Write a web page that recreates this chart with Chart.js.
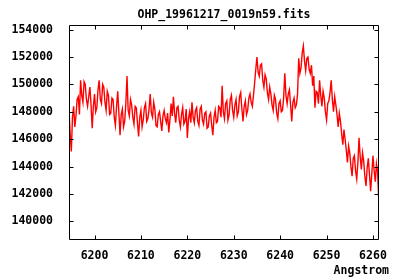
<!DOCTYPE html>
<html>
<head>
<meta charset="utf-8">
<title>OHP_19961217_0019n59.fits</title>
<script src="https://cdn.jsdelivr.net/npm/chart.js@4/dist/chart.umd.min.js"></script>
<style>
  body { margin: 0; background: #fff; }
  canvas { display: block; }
</style>
</head>
<body>
<canvas id="spectrum" width="400" height="280"></canvas>
<script>
const chartTitle = 'OHP_19961217_0019n59.fits';
const xAxisLabel = 'Angstrom';

const xTicks = [6200, 6210, 6220, 6230, 6240, 6250, 6260];
const yTicks = [140000, 142000, 144000, 146000, 148000, 150000, 152000, 154000];

const wavelengths = [
  6194.5, 6194.75, 6195, 6195.25, 6195.5, 6195.75, 6196, 6196.25,
  6196.5, 6196.75, 6197, 6197.25, 6197.5, 6197.75, 6198, 6198.25,
  6198.5, 6198.75, 6199, 6199.25, 6199.5, 6199.75, 6200, 6200.25,
  6200.5, 6200.75, 6201, 6201.25, 6201.5, 6201.75, 6202, 6202.25,
  6202.5, 6202.75, 6203, 6203.25, 6203.5, 6203.75, 6204, 6204.25,
  6204.5, 6204.75, 6205, 6205.25, 6205.5, 6205.75, 6206, 6206.25,
  6206.5, 6206.75, 6207, 6207.25, 6207.5, 6207.75, 6208, 6208.25,
  6208.5, 6208.75, 6209, 6209.25, 6209.5, 6209.75, 6210, 6210.25,
  6210.5, 6210.75, 6211, 6211.25, 6211.5, 6211.75, 6212, 6212.25,
  6212.5, 6212.75, 6213, 6213.25, 6213.5, 6213.75, 6214, 6214.25,
  6214.5, 6214.75, 6215, 6215.25, 6215.5, 6215.75, 6216, 6216.25,
  6216.5, 6216.75, 6217, 6217.25, 6217.5, 6217.75, 6218, 6218.25,
  6218.5, 6218.75, 6219, 6219.25, 6219.5, 6219.75, 6220, 6220.25,
  6220.5, 6220.75, 6221, 6221.25, 6221.5, 6221.75, 6222, 6222.25,
  6222.5, 6222.75, 6223, 6223.25, 6223.5, 6223.75, 6224, 6224.25,
  6224.5, 6224.75, 6225, 6225.25, 6225.5, 6225.75, 6226, 6226.25,
  6226.5, 6226.75, 6227, 6227.25, 6227.5, 6227.75, 6228, 6228.25,
  6228.5, 6228.75, 6229, 6229.25, 6229.5, 6229.75, 6230, 6230.25,
  6230.5, 6230.75, 6231, 6231.25, 6231.5, 6231.75, 6232, 6232.25,
  6232.5, 6232.75, 6233, 6233.25, 6233.5, 6233.75, 6234, 6234.25,
  6234.5, 6234.75, 6235, 6235.25, 6235.5, 6235.75, 6236, 6236.25,
  6236.5, 6236.75, 6237, 6237.25, 6237.5, 6237.75, 6238, 6238.25,
  6238.5, 6238.75, 6239, 6239.25, 6239.5, 6239.75, 6240, 6240.25,
  6240.5, 6240.75, 6241, 6241.25, 6241.5, 6241.75, 6242, 6242.25,
  6242.5, 6242.75, 6243, 6243.25, 6243.5, 6243.75, 6244, 6244.25,
  6244.5, 6244.75, 6245, 6245.25, 6245.5, 6245.75, 6246, 6246.25,
  6246.5, 6246.75, 6247, 6247.25, 6247.5, 6247.75, 6248, 6248.25,
  6248.5, 6248.75, 6249, 6249.25, 6249.5, 6249.75, 6250, 6250.25,
  6250.5, 6250.75, 6251, 6251.25, 6251.5, 6251.75, 6252, 6252.25,
  6252.5, 6252.75, 6253, 6253.25, 6253.5, 6253.75, 6254, 6254.25,
  6254.5, 6254.75, 6255, 6255.25, 6255.5, 6255.75, 6256, 6256.25,
  6256.5, 6256.75, 6257, 6257.25, 6257.5, 6257.75, 6258, 6258.25,
  6258.5, 6258.75, 6259, 6259.25, 6259.5, 6259.75, 6260, 6260.25,
  6260.5, 6260.75, 6261, 6261.25
];

const flux = [
  148200, 146400, 145100, 147600, 148400, 146900, 147700, 148900,
  149100, 147800, 150300, 149200, 148700, 150200, 150000, 148900,
  148400, 149100, 149800, 148500, 146800, 148400, 149300, 148000,
  148300, 149600, 150300, 148900, 148600, 150000, 149800, 148700,
  148100, 149500, 149200, 147800, 147900, 149000, 148900, 147600,
  147000, 148400, 149500, 147900, 146300, 147800, 148200, 146900,
  147300, 148600, 150600, 148100, 147700, 148900, 148500, 147600,
  147100, 148400, 148300, 147200, 146200, 147600, 148100, 146900,
  147400, 148300, 148600, 147300, 147500, 148200, 149300, 147900,
  147600, 148700, 148200, 147000, 146900, 147800, 148000, 147300,
  146600, 147700, 148100, 147500, 147200, 147900, 146500, 147400,
  148600, 147700, 149100, 147900, 147200, 148300, 148400, 147400,
  146900, 147800, 148300, 147100, 147300, 148200, 146100, 147500,
  148000, 147200, 148700, 147600, 147200, 148100, 148300, 147300,
  147000, 148200, 148400, 147400, 147100, 147900, 148000, 146800,
  146900, 147700, 147900, 147000, 146300, 147600, 148100, 147200,
  147300, 148400, 148300, 147600, 149900, 148000, 147500, 148600,
  148800, 147400, 147800, 148900, 149200, 148100, 147600, 148500,
  148900, 147700, 148000, 149100, 149400, 148200, 147300, 148400,
  148800, 147800, 148100, 149000, 149300, 148700, 148400, 149200,
  150100, 151100, 152000, 150900, 150600, 151400, 151500, 150300,
  149800, 150700, 150400, 149400, 148900, 149800, 149300, 148500,
  148100, 149200, 148900, 147900, 147500, 148600, 148800, 148000,
  148100, 149000, 150800, 149200, 148600, 149300, 149600, 148500,
  147300, 148700, 149000, 148300, 148500, 149300, 151900, 150800,
  151200, 152300, 152800, 151700, 151000, 151900, 152000, 151100,
  150800, 151400, 149900, 150600, 148300, 149500, 149400, 148600,
  150300, 149200, 148400, 149500, 149000, 148000, 147400, 148600,
  148800, 149400, 150300, 148900, 148000, 149100, 148500, 147800,
  146900, 147900, 147300, 146400, 145600, 146700, 146000, 145200,
  144300, 145500, 145000, 144000, 143300, 144600, 144800, 143700,
  143100, 144300, 146100, 144700, 143800, 145000, 144400, 143300,
  142600, 143900, 144600, 143400, 142200, 143500, 144800, 143700,
  142900, 144200, 143600, 141500
];

const FONT = 'bold 11.5px "DejaVu Sans Mono", "Liberation Mono", monospace';

// gnuplot style frame: box with inward ticks, mirrored on top and right
const framePlugin = {
  id: 'frame',
  afterDraw(chart) {
    const { ctx, chartArea: a, scales } = chart;
    const L = Math.round(a.left) + 0.5, R = Math.round(a.right) - 0.5;
    const T = Math.round(a.top) + 0.5, B = Math.round(a.bottom) - 0.5;
    const len = 4;
    ctx.save();
    ctx.strokeStyle = '#000';
    ctx.lineWidth = 1;
    ctx.beginPath();
    ctx.rect(L, T, R - L, B - T);
    xTicks.forEach(v => {
      const px = Math.round(scales.x.getPixelForValue(v)) + 0.5;
      ctx.moveTo(px, B); ctx.lineTo(px, B - len);
      ctx.moveTo(px, T); ctx.lineTo(px, T + len);
    });
    yTicks.forEach(v => {
      const py = Math.round(scales.y.getPixelForValue(v)) + 0.5;
      ctx.moveTo(L, py); ctx.lineTo(L + len, py);
      ctx.moveTo(R, py); ctx.lineTo(R - len, py);
    });
    ctx.stroke();

    ctx.fillStyle = '#000';
    ctx.font = FONT;
    ctx.textBaseline = 'middle';
    ctx.textAlign = 'center';
    ctx.fillText(chartTitle, (a.left + a.right) / 2, 15);
    ctx.textAlign = 'right';
    ctx.fillText(xAxisLabel, 389, 271);
    ctx.restore();
  }
};

new Chart(document.getElementById('spectrum'), {
  type: 'line',
  data: {
    datasets: [{
      data: wavelengths.map((w, i) => ({ x: w, y: flux[i] })),
      borderColor: '#ff0000',
      borderWidth: 1.4,
      pointRadius: 0,
      tension: 0,
      fill: false
    }]
  },
  options: {
    responsive: false,
    animation: false,
    layout: { padding: { top: 25, right: 21, bottom: 0, left: 0 } },
    plugins: { legend: { display: false }, tooltip: { enabled: false } },
    scales: {
      x: {
        type: 'linear',
        min: 6194.5,
        max: 6261.3,
        grid: { display: false },
        border: { display: false },
        afterFit: (s) => { s.height = 40; },
        afterBuildTicks: (s) => { s.ticks = xTicks.map(v => ({ value: v })); },
        ticks: {
          color: '#000',
          font: { family: '"DejaVu Sans Mono"', size: 11.5, weight: 'bold' },
          padding: 1,
          maxRotation: 0,
          callback: (v) => String(v)
        }
      },
      y: {
        min: 138650,
        max: 154330,
        grid: { display: false },
        border: { display: false },
        afterFit: (s) => { s.width = 69; },
        afterBuildTicks: (s) => { s.ticks = yTicks.map(v => ({ value: v })); },
        ticks: {
          color: '#000',
          font: { family: '"DejaVu Sans Mono"', size: 11.5, weight: 'bold' },
          padding: 8,
          callback: (v) => String(v)
        }
      }
    }
  },
  plugins: [framePlugin]
});
</script>
</body>
</html>
